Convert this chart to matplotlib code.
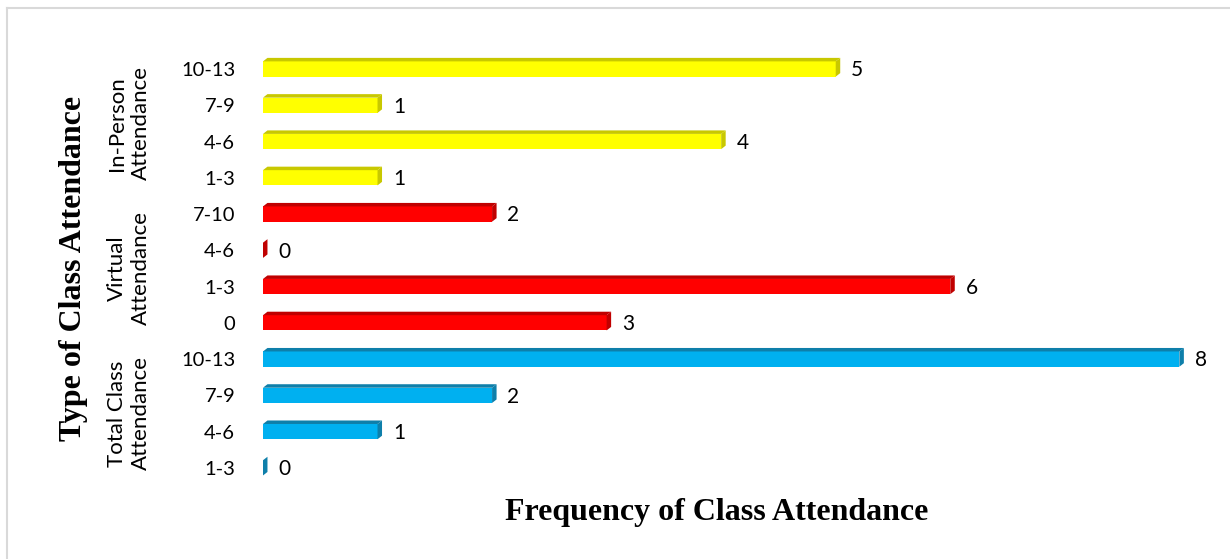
import matplotlib.pyplot as plt
from matplotlib.patches import Polygon
from matplotlib.lines import Line2D

# categories bottom -> top
labels = ["1-3", "4-6", "7-9", "10-13",
          "0", "1-3", "4-6", "7-10",
          "1-3", "4-6", "7-9", "10-13"]
values = [0, 1, 2, 8,
          3, 6, 0, 2,
          1, 4, 1, 5]
groups = ["Total Class\nAttendance", "Virtual\nAttendance", "In-Person\nAttendance"]
group_size = 4

front_cols = ["#00B0F0", "#FF0000", "#FFFF00"]
dark_cols = ["#0E7FAA", "#C00000", "#C8C800"]

fig = plt.figure(figsize=(12.3, 5.59), dpi=100)
ax = fig.add_axes([0.2138, 0.1306, 0.7618, 0.7784])
xmax = 8.18
ax.set_xlim(0, xmax)
ax.set_ylim(-0.5, len(values) - 0.5)

# depth of the 3d look, in pixels -> data units
bw = ax.get_position().width * 1230
bh = ax.get_position().height * 559
dx = 4.5 / bw * xmax
dy = 3.5 / bh * len(values)
h = 0.42

for i, v in enumerate(values):
    g = i // group_size
    y0, y1 = i - h / 2, i + h / 2
    ax.add_patch(Polygon([(0, y0), (v, y0), (v, y1), (0, y1)], closed=True,
                         facecolor=front_cols[g], edgecolor="none", zorder=3))
    ax.add_patch(Polygon([(0, y1), (v, y1), (v + dx, y1 + dy), (dx, y1 + dy)], closed=True,
                         facecolor=dark_cols[g], edgecolor="none", zorder=3))
    ax.add_patch(Polygon([(v, y0), (v + dx, y0 + dy), (v + dx, y1 + dy), (v, y1)], closed=True,
                         facecolor=dark_cols[g], edgecolor="none", zorder=3))
    ax.annotate(str(v), xy=(v, i), xytext=(11, -1), textcoords="offset points",
                ha="left", va="center", fontsize=15, family="Lato", clip_on=False)

ax.set_yticks(range(len(labels)))
ax.set_yticklabels(labels, fontsize=14.5, family="Lato")
ax.set_xticks([])
ax.tick_params(axis="y", length=0, pad=20)
for s in ax.spines.values():
    s.set_visible(False)

for g, name in enumerate(groups):
    yc = g * group_size + (group_size - 1) / 2
    ax.text(-0.143, yc, name, transform=ax.get_yaxis_transform(), rotation=90,
            ha="center", va="center", fontsize=16, family="Lato", linespacing=1.25)

fig.text(0.060, 0.52, "Type of Class Attendance", rotation=90, ha="center", va="center",
         fontsize=23, fontweight="bold", family="Liberation Serif")
fig.text(0.583, 0.084, "Frequency of Class Attendance", ha="center", va="center",
         fontsize=23, fontweight="bold", family="Liberation Serif")

# frame
fig.add_artist(Line2D([0.0057, 1.0], [0.9857, 0.9857], transform=fig.transFigure,
                      color="#d9d9d9", lw=1.5))
fig.add_artist(Line2D([0.0057, 0.0057], [0.0, 0.9857], transform=fig.transFigure,
                      color="#d9d9d9", lw=1.5))

fig.savefig("out.png", dpi=100)
